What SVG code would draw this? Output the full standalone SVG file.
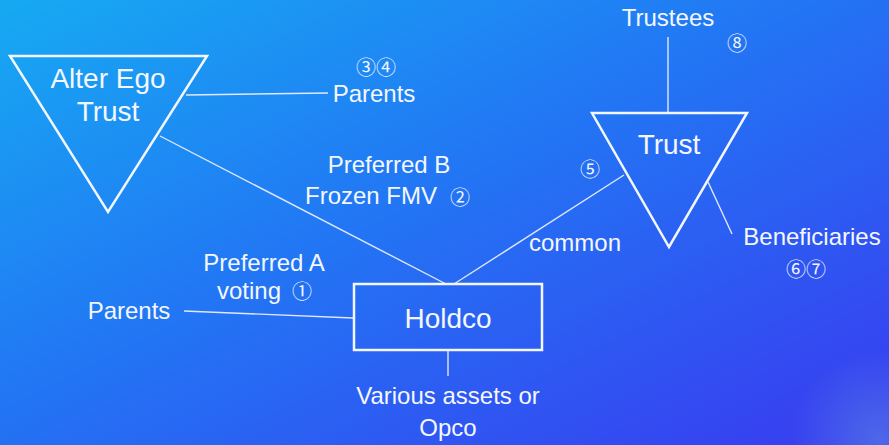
<svg xmlns="http://www.w3.org/2000/svg" width="889" height="445" viewBox="0 0 889 445">
  <defs>
    <linearGradient id="bg" x1="0" y1="0" x2="1" y2="1">
      <stop offset="0" stop-color="#16aaf2"/>
      <stop offset="0.45" stop-color="#2276f4"/>
      <stop offset="1" stop-color="#3a3af0"/>
    </linearGradient>
    <radialGradient id="glow" cx="880" cy="440" r="90" gradientUnits="userSpaceOnUse">
      <stop offset="0" stop-color="#5a86e4" stop-opacity="0.6"/>
      <stop offset="1" stop-color="#5a86e4" stop-opacity="0"/>
    </radialGradient>
    <style>
      .shape { fill: none; stroke: #f2f6ff; stroke-width: 2.5; }
      .wire { fill: none; stroke: #dfe8ff; stroke-width: 1.4; }
      text { fill: #f4f7ff; font-family: "Liberation Sans", Arial, sans-serif; text-anchor: middle; }
      .big { font-size: 28px; }
      .lbl { font-size: 24px; }
      .num { font-size: 20px; font-family: "Noto Sans CJK JP", "DejaVu Sans", sans-serif; }
    </style>
  </defs>

  <rect width="889" height="445" fill="url(#bg)"/>
  <rect width="889" height="445" fill="url(#glow)"/>

  <!-- connectors -->
  <g id="connectors">
    <line class="wire" x1="186" y1="95" x2="328" y2="93"/>
    <line class="wire" x1="160" y1="136" x2="446" y2="284"/>
    <line class="wire" x1="624" y1="175" x2="454" y2="284"/>
    <line class="wire" x1="668" y1="37" x2="668" y2="112"/>
    <line class="wire" x1="708" y1="182" x2="732" y2="234"/>
    <line class="wire" x1="184" y1="311" x2="353" y2="318"/>
    <line class="wire" x1="448" y1="350" x2="448" y2="376"/>
  </g>

  <!-- nodes -->
  <g id="alter-ego-trust">
    <polygon class="shape" points="10,56 207,56 108,212"/>
    <text class="big" x="108" y="88">Alter Ego</text>
    <text class="big" x="108" y="121">Trust</text>
  </g>

  <g id="trust">
    <polygon class="shape" points="592,113 747,113 669,247"/>
    <text class="big" x="669" y="154">Trust</text>
  </g>

  <g id="holdco">
    <rect class="shape" x="354" y="284" width="188" height="66"/>
    <text class="big" x="448" y="328">Holdco</text>
  </g>

  <g id="parents-top">
    <text class="num" x="376" y="75">③④</text>
    <text class="lbl" x="374" y="102">Parents</text>
  </g>

  <g id="trustees">
    <text class="lbl" x="668" y="26">Trustees</text>
    <text class="num" x="737" y="51">⑧</text>
  </g>

  <g id="beneficiaries">
    <text class="lbl" x="812" y="245">Beneficiaries</text>
    <text class="num" x="806" y="277">⑥⑦</text>
  </g>

  <g id="parents-left">
    <text class="lbl" x="129" y="319">Parents</text>
  </g>

  <g id="assets">
    <text class="lbl" x="448" y="404">Various assets or</text>
    <text class="lbl" x="448" y="436">Opco</text>
  </g>

  <!-- edge labels -->
  <g id="labels">
    <text class="lbl" x="389" y="173">Preferred B</text>
    <text class="lbl" x="371" y="204">Frozen FMV</text>
    <text class="num" x="460" y="205">②</text>
    <text class="lbl" x="264" y="271">Preferred A</text>
    <text class="lbl" x="249" y="299">voting</text>
    <text class="num" x="302" y="299">①</text>
    <text class="num" x="590" y="177">⑤</text>
    <text class="lbl" x="575" y="251">common</text>
  </g>
</svg>
